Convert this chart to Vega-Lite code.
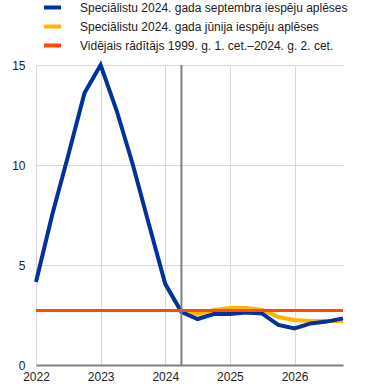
{
  "$schema": "https://vega.github.io/schema/vega-lite/v6.json",
  "width": 307,
  "height": 300,
  "autosize": {"type": "none"},
  "padding": {"left": 36, "top": 65, "right": 30, "bottom": 26},
  "config": {
    "font": "Liberation Sans",
    "view": {"stroke": null},
    "axis": {"gridColor": "#d9d9d9", "gridWidth": 1, "labelFontSize": 12, "labelColor": "#222222", "ticks": false, "title": null, "labelFlush": false}
  },
  "data": {
    "values": [
      {"series": "Speciālistu 2024. gada septembra iespēju aplēses", "year": 2022.0, "value": 4.15},
      {"series": "Speciālistu 2024. gada septembra iespēju aplēses", "year": 2022.25, "value": 7.5},
      {"series": "Speciālistu 2024. gada septembra iespēju aplēses", "year": 2022.5, "value": 10.5},
      {"series": "Speciālistu 2024. gada septembra iespēju aplēses", "year": 2022.75, "value": 13.6},
      {"series": "Speciālistu 2024. gada septembra iespēju aplēses", "year": 2023.0, "value": 15.0},
      {"series": "Speciālistu 2024. gada septembra iespēju aplēses", "year": 2023.25, "value": 12.7},
      {"series": "Speciālistu 2024. gada septembra iespēju aplēses", "year": 2023.5, "value": 10.0},
      {"series": "Speciālistu 2024. gada septembra iespēju aplēses", "year": 2023.75, "value": 7.0},
      {"series": "Speciālistu 2024. gada septembra iespēju aplēses", "year": 2024.0, "value": 4.05},
      {"series": "Speciālistu 2024. gada septembra iespēju aplēses", "year": 2024.25, "value": 2.65},
      {"series": "Speciālistu 2024. gada septembra iespēju aplēses", "year": 2024.5, "value": 2.3},
      {"series": "Speciālistu 2024. gada septembra iespēju aplēses", "year": 2024.75, "value": 2.55},
      {"series": "Speciālistu 2024. gada septembra iespēju aplēses", "year": 2025.0, "value": 2.55},
      {"series": "Speciālistu 2024. gada septembra iespēju aplēses", "year": 2025.25, "value": 2.62},
      {"series": "Speciālistu 2024. gada septembra iespēju aplēses", "year": 2025.5, "value": 2.57},
      {"series": "Speciālistu 2024. gada septembra iespēju aplēses", "year": 2025.75, "value": 2.0},
      {"series": "Speciālistu 2024. gada septembra iespēju aplēses", "year": 2026.0, "value": 1.83},
      {"series": "Speciālistu 2024. gada septembra iespēju aplēses", "year": 2026.25, "value": 2.08},
      {"series": "Speciālistu 2024. gada septembra iespēju aplēses", "year": 2026.5, "value": 2.17},
      {"series": "Speciālistu 2024. gada septembra iespēju aplēses", "year": 2026.75, "value": 2.33},
      {"series": "Speciālistu 2024. gada jūnija iespēju aplēses", "year": 2024.0, "value": 4.05},
      {"series": "Speciālistu 2024. gada jūnija iespēju aplēses", "year": 2024.25, "value": 2.65},
      {"series": "Speciālistu 2024. gada jūnija iespēju aplēses", "year": 2024.5, "value": 2.55},
      {"series": "Speciālistu 2024. gada jūnija iespēju aplēses", "year": 2024.75, "value": 2.75},
      {"series": "Speciālistu 2024. gada jūnija iespēju aplēses", "year": 2025.0, "value": 2.85},
      {"series": "Speciālistu 2024. gada jūnija iespēju aplēses", "year": 2025.25, "value": 2.85},
      {"series": "Speciālistu 2024. gada jūnija iespēju aplēses", "year": 2025.5, "value": 2.75},
      {"series": "Speciālistu 2024. gada jūnija iespēju aplēses", "year": 2025.75, "value": 2.4},
      {"series": "Speciālistu 2024. gada jūnija iespēju aplēses", "year": 2026.0, "value": 2.25},
      {"series": "Speciālistu 2024. gada jūnija iespēju aplēses", "year": 2026.25, "value": 2.2},
      {"series": "Speciālistu 2024. gada jūnija iespēju aplēses", "year": 2026.5, "value": 2.2},
      {"series": "Speciālistu 2024. gada jūnija iespēju aplēses", "year": 2026.75, "value": 2.2},
      {"series": "Vidējais rādītājs 1999. g. 1. cet.–2024. g. 2. cet.", "year": 2022.0, "value": 2.72},
      {"series": "Vidējais rādītājs 1999. g. 1. cet.–2024. g. 2. cet.", "year": 2026.75, "value": 2.72}
    ]
  },
  "encoding": {
    "x": {
      "field": "year",
      "type": "quantitative",
      "scale": {"domain": [2022, 2026.75], "nice": false, "zero": false},
      "axis": {"values": [2022, 2023, 2024, 2025, 2026], "format": "d", "grid": true, "domainColor": "#808080", "domainWidth": 2, "labelPadding": 6}
    },
    "color": {
      "field": "series",
      "type": "nominal",
      "scale": {
        "domain": ["Speciālistu 2024. gada septembra iespēju aplēses", "Speciālistu 2024. gada jūnija iespēju aplēses", "Vidējais rādītājs 1999. g. 1. cet.–2024. g. 2. cet."],
        "range": ["#003299", "#FFB400", "#FF4B00"]
      },
      "legend": {
        "orient": "none",
        "legendX": 6,
        "legendY": -68,
        "padding": 0,
        "title": null,
        "symbolType": "stroke",
        "symbolStrokeWidth": 4,
        "symbolSize": 289,
        "labelFontSize": 12,
        "labelColor": "#222222",
        "labelOffset": 17,
        "labelLimit": 400,
        "rowPadding": 0
      }
    }
  },
  "layer": [
    {
      "transform": [{"filter": "datum.series === 'Speciālistu 2024. gada jūnija iespēju aplēses'"}],
      "mark": {"type": "line", "strokeWidth": 4},
      "encoding": {
        "y": {
          "field": "value",
          "type": "quantitative",
          "scale": {"domain": [0, 15], "nice": false},
          "axis": {"values": [0, 5, 10, 15], "domain": false, "grid": true, "labelPadding": 11}
        }
      }
    },
    {
      "transform": [{"filter": "datum.series === 'Speciālistu 2024. gada septembra iespēju aplēses'"}],
      "mark": {"type": "line", "strokeWidth": 4},
      "encoding": {"y": {"field": "value", "type": "quantitative"}}
    },
    {
      "transform": [{"filter": "datum.series === 'Vidējais rādītājs 1999. g. 1. cet.–2024. g. 2. cet.'"}],
      "mark": {"type": "line", "strokeWidth": 3},
      "encoding": {"y": {"field": "value", "type": "quantitative"}}
    },
    {
      "data": {"values": [{"year": 2024.25}]},
      "mark": {"type": "rule", "strokeWidth": 2},
      "encoding": {"color": {"value": "#7f7f7f"}}
    }
  ]
}
